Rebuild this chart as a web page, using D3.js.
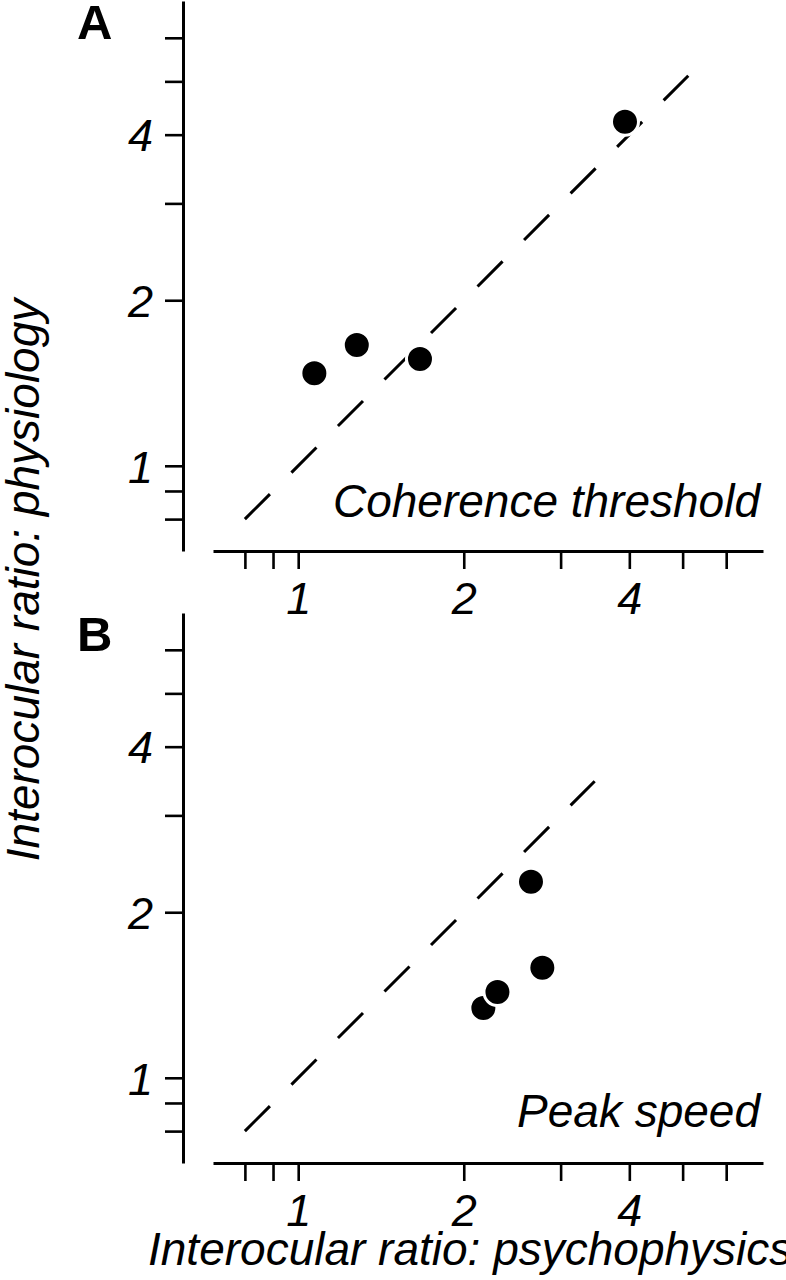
<!DOCTYPE html>
<html>
<head>
<meta charset="utf-8">
<script src="https://cdn.jsdelivr.net/npm/d3@7"></script>
<style>
  html, body { margin: 0; padding: 0; background: #fff; }
  svg { display: block; }
  text { font-family: "Liberation Sans", Arial, Helvetica, sans-serif; fill: #000; }
</style>
</head>
<body>
<svg id="chart" width="786" height="1280"></svg>
<script>
// ---- data ----
const panelNames = ["A", "B"];
const panelTitles = ["Coherence threshold", "Peak speed"];
// panel A: coherence threshold
const psychA = [1.07, 1.278, 1.665, 3.928];
const physA  = [1.473, 1.658, 1.564, 4.222];
// panel B: peak speed
const psychB = [2.171, 2.303, 2.779, 2.650];
const physB  = [1.339, 1.432, 1.585, 2.273];
// unity-line extents
const unityA = [0.8, 5.12];
const unityB = [0.8, 3.46];
// axis ticks
const tickValues = [0.8, 0.9, 1, 2, 3, 4, 5, 6];
const tickLabels = [1, 2, 4];
const axisDomain = [0.7, 7];
const xTitle = "Interocular ratio: psychophysics";
const yTitle = "Interocular ratio: physiology";

// ---- layout ----
const svg = d3.select("#chart");
const xLeft = 213, xRight = 763, yAxisX = 183;
const panelTops = [1, 613];
const panelSize = 550;
const fontSize = 46;

const panels = [
  { name: panelNames[0], title: panelTitles[0], xs: psychA, ys: physA, unity: unityA },
  { name: panelNames[1], title: panelTitles[1], xs: psychB, ys: physB, unity: unityB }
];

panels.forEach((p, i) => {
  const top = panelTops[i];
  const bottom = top + panelSize;
  const x = d3.scaleLog().domain(axisDomain).range([xLeft, xRight]);
  const y = d3.scaleLog().domain(axisDomain).range([bottom, top]);
  const fmt = d => tickLabels.includes(d) ? String(d) : "";

  // x axis
  const gx = svg.append("g")
    .attr("transform", `translate(0,${bottom})`)
    .call(d3.axisBottom(x).tickValues(tickValues).tickFormat(fmt)
      .tickSize(18).tickSizeOuter(0).tickPadding(13));
  // y axis
  const gy = svg.append("g")
    .attr("transform", `translate(${yAxisX},0)`)
    .call(d3.axisLeft(y).tickValues(tickValues).tickFormat(fmt)
      .tickSize(18).tickSizeOuter(0).tickPadding(12));

  [gx, gy].forEach(g => {
    g.select(".domain").attr("stroke", "#000").attr("stroke-width", 3);
    g.selectAll(".tick line").attr("stroke", "#000").attr("stroke-width", 2.6);
    g.selectAll(".tick text")
      .attr("font-family", "'Liberation Sans', Arial, Helvetica, sans-serif")
      .attr("font-size", 45)
      .attr("font-style", "italic")
      .attr("fill", "#000");
  });
  gy.selectAll(".tick text").attr("dy", "0.36em");

  // unity line
  svg.append("line")
    .attr("x1", x(p.unity[0])).attr("y1", y(p.unity[0]))
    .attr("x2", x(p.unity[1])).attr("y2", y(p.unity[1]))
    .attr("stroke", "#000").attr("stroke-width", 3)
    .attr("stroke-dasharray", "35.4,30.4");

  // points
  const pts = p.xs.map((v, k) => ({ x: v, y: p.ys[k] }));
  svg.append("g").selectAll("circle").data(pts).join("circle")
    .attr("cx", d => x(d.x)).attr("cy", d => y(d.y))
    .attr("r", 13.5)
    .attr("fill", "#000")
    .attr("stroke", "#fff").attr("stroke-width", 3);

  // panel title (condition)
  svg.append("text")
    .attr("x", 760).attr("y", i === 0 ? 517 : 1127)
    .attr("text-anchor", "end")
    .attr("font-size", fontSize).attr("font-style", "italic")
    .text(p.title);

  // panel letter
  svg.append("text")
    .attr("x", 77).attr("y", top + 38)
    .attr("font-size", 49).attr("font-weight", "bold")
    .text(p.name);
});

// axis titles
svg.append("text")
  .attr("x", 148).attr("y", 1265)
  .attr("font-size", fontSize).attr("font-style", "italic")
  .text(xTitle);

svg.append("text")
  .attr("transform", "translate(39,580) rotate(-90)")
  .attr("text-anchor", "middle")
  .attr("font-size", fontSize).attr("font-style", "italic")
  .text(yTitle);
</script>
</body>
</html>
